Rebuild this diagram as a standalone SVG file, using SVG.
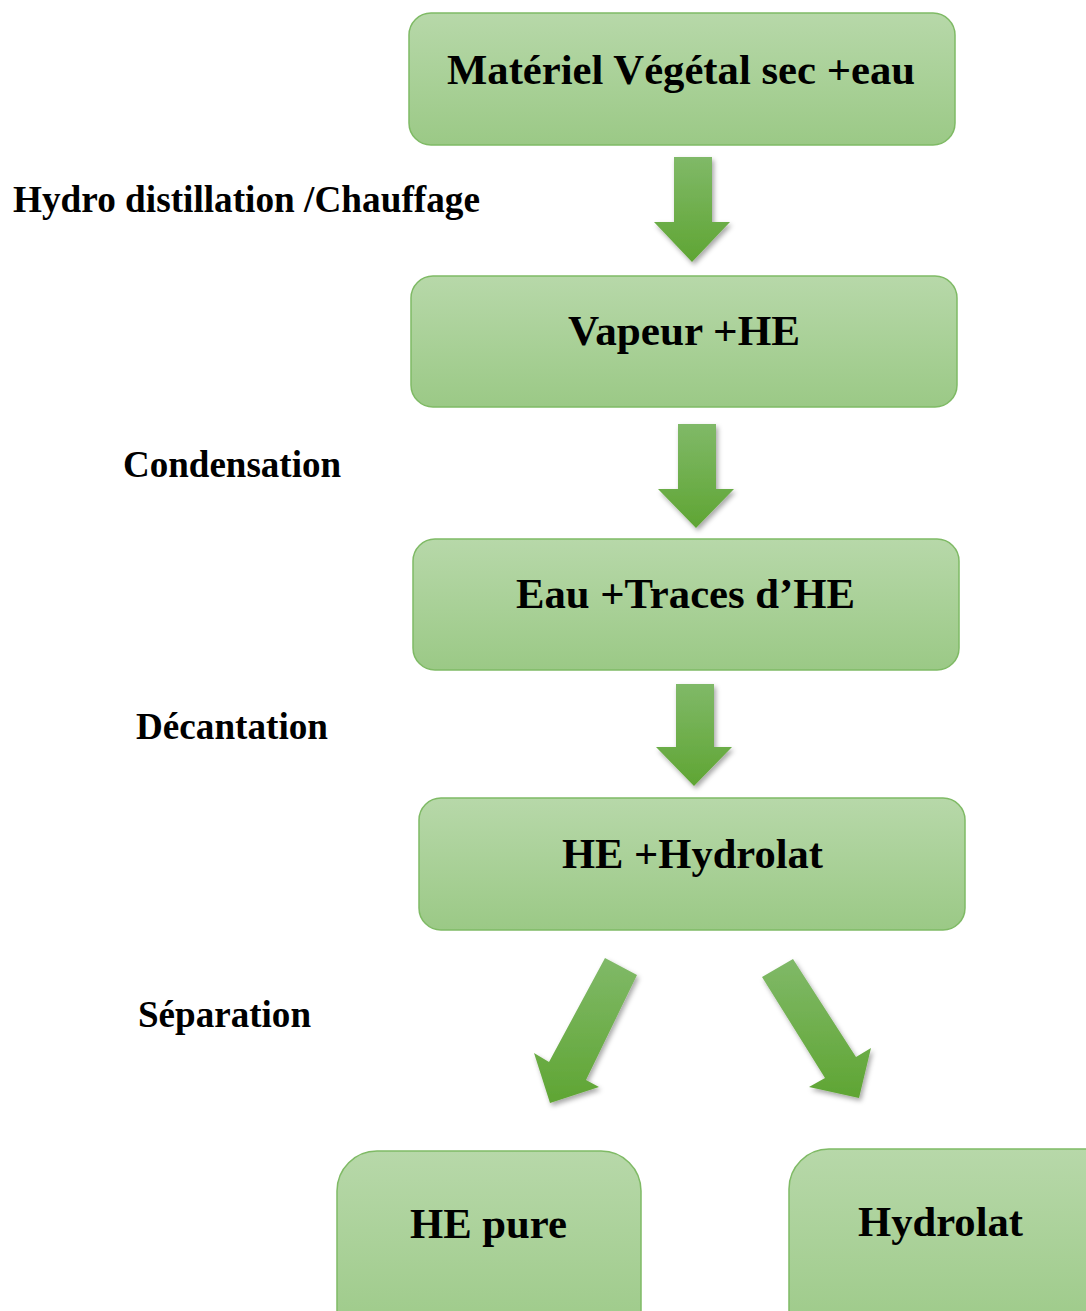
<svg xmlns="http://www.w3.org/2000/svg" width="1086" height="1311" viewBox="0 0 1086 1311">
<style>
.box{fill:url(#boxg);stroke:#7fba65;stroke-width:1.5}
.arr{fill:url(#arrg);filter:url(#sh)}
.t{font-family:"Liberation Serif","Times New Roman",serif;font-weight:bold;fill:#000}
.bt{font-size:42.5px}
.lt{font-size:37.5px}
</style>
<defs>
<linearGradient id="boxg" x1="0" y1="0" x2="0" y2="1">
<stop offset="0" stop-color="#b7d8a9"/>
<stop offset="1" stop-color="#9bc986"/>
</linearGradient>
<linearGradient id="arrg" x1="0" y1="0" x2="0" y2="1">
<stop offset="0" stop-color="#80b968"/>
<stop offset="1" stop-color="#5fa533"/>
</linearGradient>
<filter id="sh" x="-30%" y="-30%" width="160%" height="160%">
<feDropShadow dx="2" dy="3" stdDeviation="2.5" flood-color="#000" flood-opacity="0.35"/>
</filter>
</defs>
<rect width="1086" height="1311" fill="#fff"/>
<g id="connectors">
<path class="arr" d="M674,157 L712,157 L712,222 L730,222 L692,262 L654,222 L674,222 Z"/>
<path class="arr" d="M678,424 L716,424 L716,489 L734,489 L696,528 L658,489 L678,489 Z"/>
<path class="arr" d="M676,684 L714,684 L714,747 L732,747 L694,786 L656,747 L676,747 Z"/>
<path class="arr" d="M605,958 L637,975 L586,1080 L599,1087 L550,1103 L534,1053 L549,1062 Z"/>
<path class="arr" d="M793,959 L762,977 L825,1078 L809,1087 L859,1098 L871,1048 L856,1057 Z"/>
</g>
<g id="label-hydro"><text class="t lt" x="13" y="212" textLength="467" lengthAdjust="spacingAndGlyphs">Hydro distillation /Chauffage</text></g>
<g id="label-condensation"><text class="t lt" x="123" y="477" textLength="218" lengthAdjust="spacingAndGlyphs">Condensation</text></g>
<g id="label-decantation"><text class="t lt" x="136" y="739" textLength="192" lengthAdjust="spacingAndGlyphs">Décantation</text></g>
<g id="label-separation"><text class="t lt" x="138" y="1027" textLength="173" lengthAdjust="spacingAndGlyphs">Séparation</text></g>
<g id="node-materiel">
<rect class="box" x="409" y="13" width="546" height="132" rx="22"/>
<text class="t bt" x="447" y="84" textLength="468" lengthAdjust="spacingAndGlyphs">Matériel Végétal sec +eau</text>
</g>
<g id="node-vapeur">
<rect class="box" x="411" y="276" width="546" height="131" rx="22"/>
<text class="t bt" x="568" y="345" textLength="232" lengthAdjust="spacingAndGlyphs">Vapeur +HE</text>
</g>
<g id="node-eau">
<rect class="box" x="413" y="539" width="546" height="131" rx="22"/>
<text class="t bt" x="516" y="608" textLength="339" lengthAdjust="spacingAndGlyphs">Eau +Traces d’HE</text>
</g>
<g id="node-he-hydrolat">
<rect class="box" x="419" y="798" width="546" height="132" rx="22"/>
<text class="t bt" x="562" y="868" textLength="261" lengthAdjust="spacingAndGlyphs">HE +Hydrolat</text>
</g>
<g id="node-he-pure">
<rect class="box" x="337" y="1151" width="304" height="200" rx="40"/>
<text class="t bt" x="410" y="1238" textLength="157" lengthAdjust="spacingAndGlyphs">HE pure</text>
</g>
<g id="node-hydrolat">
<rect class="box" x="789" y="1149" width="340" height="200" rx="40"/>
<text class="t bt" x="858" y="1236" textLength="165" lengthAdjust="spacingAndGlyphs">Hydrolat</text>
</g>
</svg>
